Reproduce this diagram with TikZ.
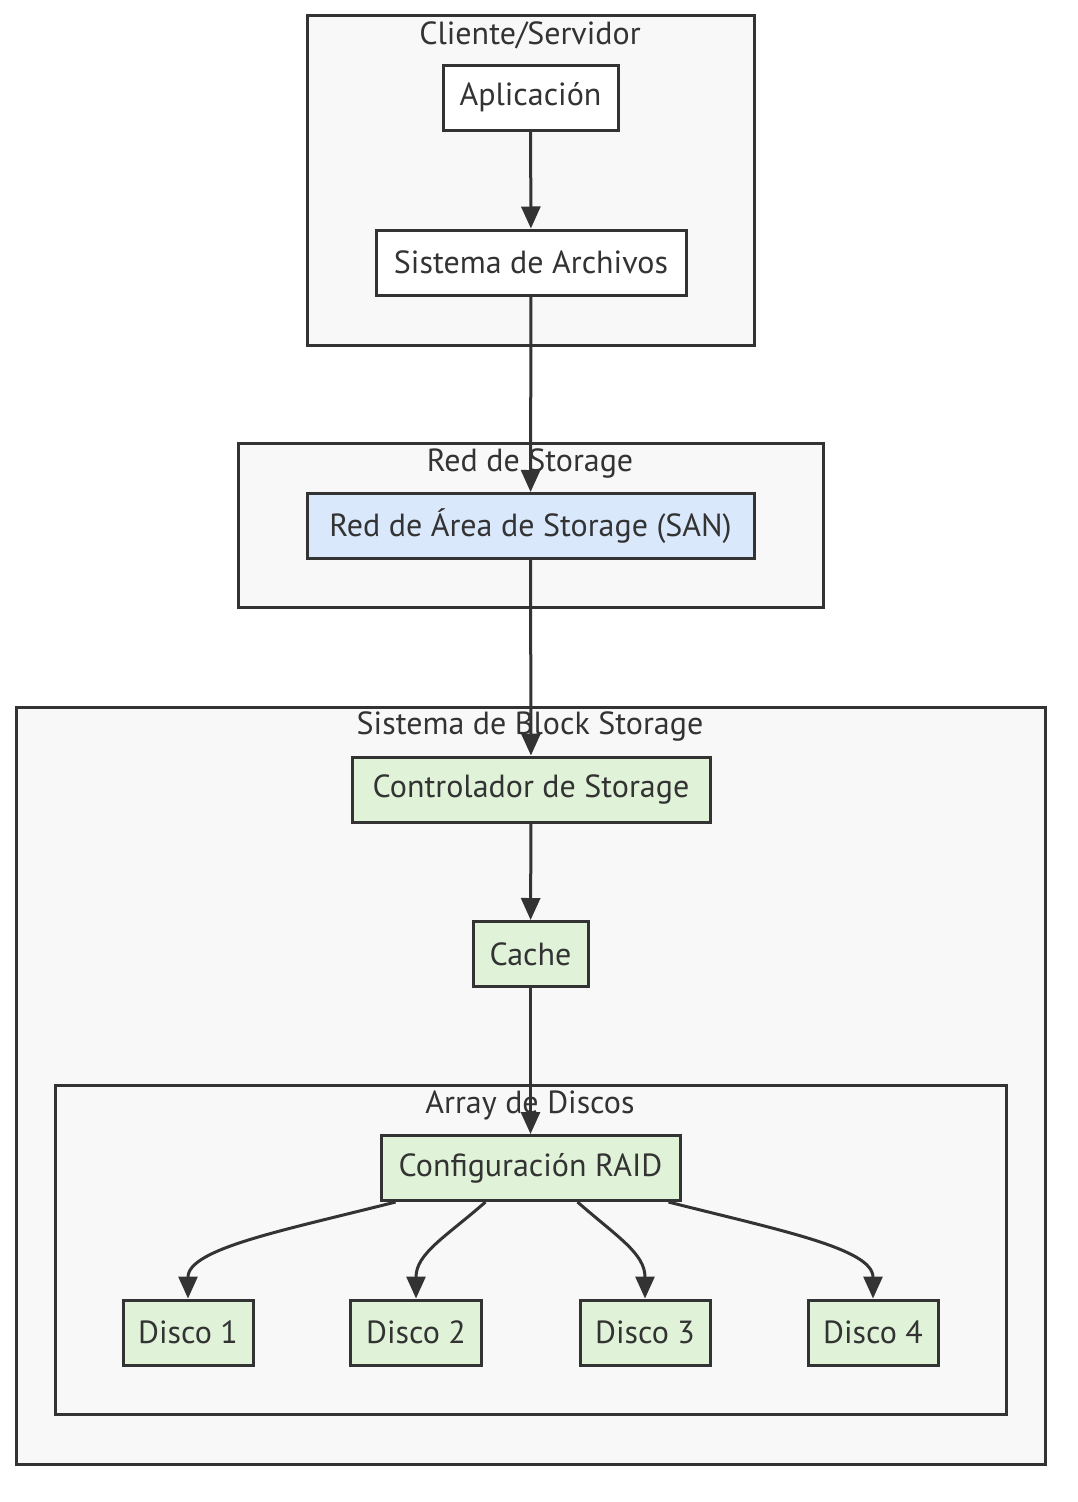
\documentclass[tikz,border=0pt]{standalone}
\usepackage{fontspec}
\setmainfont{PT Sans}
\usetikzlibrary{arrows.meta}
\definecolor{ink}{HTML}{333333}
\definecolor{clfill}{HTML}{F8F8F8}
\definecolor{bluefill}{HTML}{DAE8FC}
\definecolor{greenfill}{HTML}{E0F3D8}
\tikzset{
  cluster/.style={draw=ink, fill=clfill, line width=3pt},
  ctitle/.style={text=ink, font=\fontsize{32}{36}\selectfont, inner sep=0pt},
  box/.style={draw=ink, line width=3pt, fill=white, text=ink, font=\fontsize{32}{36}\selectfont, minimum height=65pt, inner sep=0pt},
  bluebox/.style={box, fill=bluefill},
  greenbox/.style={box, fill=greenfill},
  edge/.style={draw=ink, line width=3pt, -{Triangle[length=22pt,width=19pt]}},
}
\begin{document}
\begin{tikzpicture}[x=1pt,y=-1pt]
\useasboundingbox[fill=white] (0,0) rectangle (1078,1502);
% clusters
\draw[cluster] (307,15) rectangle (754,345);
\node[ctitle] (t1) at (530,35) {Cliente/Servidor};
\draw[cluster] (238,443) rectangle (823,607);
\node[ctitle] (t2) at (530,463) {Red de Storage};
\draw[cluster] (16,707) rectangle (1045,1464);
\node[ctitle] (t3) at (530,726) {Sistema de Block Storage};
\draw[cluster] (55,1085) rectangle (1006,1414);
\node[ctitle] (t4) at (530,1105) {Array de Discos};
% nodes
\node[box, minimum width=175pt] (app) at (530.5,97.5) {Aplicación};
\node[box, minimum width=310pt] (fs) at (531,262.5) {Sistema de Archivos};
\node[bluebox, minimum width=447pt] (san) at (530.5,526) {Red de Área de Storage (SAN)};
\node[greenbox, minimum width=358pt] (ctl) at (531,789.5) {Controlador de Storage};
\node[greenbox, minimum width=115pt] (cache) at (530.5,954) {Cache};
\node[greenbox, minimum width=299pt] (raid) at (530.5,1168) {Configuración RAID};
\node[greenbox, minimum width=130pt] (d1) at (188,1332.5) {Disco 1};
\node[greenbox, minimum width=131pt] (d2) at (416,1332.5) {Disco 2};
\node[greenbox, minimum width=130pt] (d3) at (645,1332.5) {Disco 3};
\node[greenbox, minimum width=130pt] (d4) at (873,1332.5) {Disco 4};
% edges
\draw[edge] (app) -- (fs);
\draw[edge] (fs) -- (san);
\draw[edge] (san) -- (ctl);
\draw[edge] (ctl) -- (cache);
\draw[edge] (cache) -- (raid);
\draw[edge] ([xshift=-135pt]raid.south) .. controls +(-110,28) and +(0,-50) .. (d1.north);
\draw[edge] ([xshift=-45pt]raid.south) .. controls +(-40,35) and +(0,-45) .. (d2.north);
\draw[edge] ([xshift=47pt]raid.south) .. controls +(40,35) and +(0,-45) .. (d3.north);
\draw[edge] ([xshift=138pt]raid.south) .. controls +(110,28) and +(0,-50) .. (d4.north);
\end{tikzpicture}
\end{document}
